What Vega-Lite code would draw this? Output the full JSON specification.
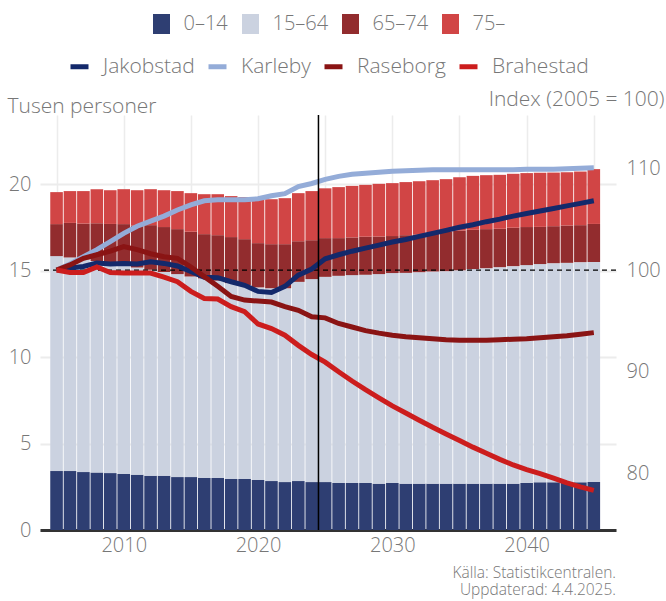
{
  "$schema": "https://vega.github.io/schema/vega-lite/v6.json",
  "width": 576,
  "height": 415,
  "autosize": {"type": "none"},
  "padding": {"left": 40, "top": 115, "right": 50, "bottom": 71},
  "background": "white",
  "config": {
    "font": "Open Sans",
    "view": {"stroke": null},
    "legend": {"layout": {"top": {"anchor": "middle", "direction": "vertical", "margin": 21, "center": true}}}
  },
  "title": {"text": ["Källa: Statistikcentralen.", "Uppdaterad: 4.4.2025."], "orient": "bottom", "anchor": "end", "frame": "group", "fontSize": 15.5, "fontWeight": 300, "color": "#777777", "lineHeight": 17, "offset": 11},
  "datasets": {
    "bars": [
      {"year":2005,"group":"0–14","value":3.41},{"year":2005,"group":"15–64","value":12.43},{"year":2005,"group":"65–74","value":1.85},{"year":2005,"group":"75–","value":1.85},
      {"year":2006,"group":"0–14","value":3.41},{"year":2006,"group":"15–64","value":12.35},{"year":2006,"group":"65–74","value":2.00},{"year":2006,"group":"75–","value":1.84},
      {"year":2007,"group":"0–14","value":3.35},{"year":2007,"group":"15–64","value":12.30},{"year":2007,"group":"65–74","value":2.07},{"year":2007,"group":"75–","value":1.88},
      {"year":2008,"group":"0–14","value":3.33},{"year":2008,"group":"15–64","value":12.22},{"year":2008,"group":"65–74","value":2.19},{"year":2008,"group":"75–","value":1.97},
      {"year":2009,"group":"0–14","value":3.29},{"year":2009,"group":"15–64","value":12.14},{"year":2009,"group":"65–74","value":2.27},{"year":2009,"group":"75–","value":1.95},
      {"year":2010,"group":"0–14","value":3.24},{"year":2010,"group":"15–64","value":12.06},{"year":2010,"group":"65–74","value":2.39},{"year":2010,"group":"75–","value":2.02},
      {"year":2011,"group":"0–14","value":3.20},{"year":2011,"group":"15–64","value":11.98},{"year":2011,"group":"65–74","value":2.43},{"year":2011,"group":"75–","value":2.04},
      {"year":2012,"group":"0–14","value":3.14},{"year":2012,"group":"15–64","value":11.91},{"year":2012,"group":"65–74","value":2.58},{"year":2012,"group":"75–","value":2.08},
      {"year":2013,"group":"0–14","value":3.14},{"year":2013,"group":"15–64","value":11.78},{"year":2013,"group":"65–74","value":2.60},{"year":2013,"group":"75–","value":2.13},
      {"year":2014,"group":"0–14","value":3.06},{"year":2014,"group":"15–64","value":11.74},{"year":2014,"group":"65–74","value":2.60},{"year":2014,"group":"75–","value":2.20},
      {"year":2015,"group":"0–14","value":3.06},{"year":2015,"group":"15–64","value":11.60},{"year":2015,"group":"65–74","value":2.59},{"year":2015,"group":"75–","value":2.23},
      {"year":2016,"group":"0–14","value":3.01},{"year":2016,"group":"15–64","value":11.54},{"year":2016,"group":"65–74","value":2.56},{"year":2016,"group":"75–","value":2.31},
      {"year":2017,"group":"0–14","value":3.01},{"year":2017,"group":"15–64","value":11.41},{"year":2017,"group":"65–74","value":2.63},{"year":2017,"group":"75–","value":2.37},
      {"year":2018,"group":"0–14","value":2.95},{"year":2018,"group":"15–64","value":11.33},{"year":2018,"group":"65–74","value":2.66},{"year":2018,"group":"75–","value":2.37},
      {"year":2019,"group":"0–14","value":2.95},{"year":2019,"group":"15–64","value":11.21},{"year":2019,"group":"65–74","value":2.66},{"year":2019,"group":"75–","value":2.43},
      {"year":2020,"group":"0–14","value":2.89},{"year":2020,"group":"15–64","value":11.14},{"year":2020,"group":"65–74","value":2.56},{"year":2020,"group":"75–","value":2.60},
      {"year":2021,"group":"0–14","value":2.83},{"year":2021,"group":"15–64","value":11.15},{"year":2021,"group":"65–74","value":2.55},{"year":2021,"group":"75–","value":2.60},
      {"year":2022,"group":"0–14","value":2.77},{"year":2022,"group":"15–64","value":11.21},{"year":2022,"group":"65–74","value":2.55},{"year":2022,"group":"75–","value":2.66},
      {"year":2023,"group":"0–14","value":2.83},{"year":2023,"group":"15–64","value":11.52},{"year":2023,"group":"65–74","value":2.35},{"year":2023,"group":"75–","value":2.78},
      {"year":2024,"group":"0–14","value":2.77},{"year":2024,"group":"15–64","value":11.74},{"year":2024,"group":"65–74","value":2.25},{"year":2024,"group":"75–","value":2.84},
      {"year":2025,"group":"0–14","value":2.77},{"year":2025,"group":"15–64","value":11.87},{"year":2025,"group":"65–74","value":2.24},{"year":2025,"group":"75–","value":2.88},
      {"year":2026,"group":"0–14","value":2.72},{"year":2026,"group":"15–64","value":11.98},{"year":2026,"group":"65–74","value":2.18},{"year":2026,"group":"75–","value":2.95},
      {"year":2027,"group":"0–14","value":2.72},{"year":2027,"group":"15–64","value":12.02},{"year":2027,"group":"65–74","value":2.18},{"year":2027,"group":"75–","value":2.98},
      {"year":2028,"group":"0–14","value":2.72},{"year":2028,"group":"15–64","value":12.04},{"year":2028,"group":"65–74","value":2.20},{"year":2028,"group":"75–","value":3.00},
      {"year":2029,"group":"0–14","value":2.68},{"year":2029,"group":"15–64","value":12.12},{"year":2029,"group":"65–74","value":2.17},{"year":2029,"group":"75–","value":3.05},
      {"year":2030,"group":"0–14","value":2.72},{"year":2030,"group":"15–64","value":12.14},{"year":2030,"group":"65–74","value":2.14},{"year":2030,"group":"75–","value":3.06},
      {"year":2031,"group":"0–14","value":2.68},{"year":2031,"group":"15–64","value":12.19},{"year":2031,"group":"65–74","value":2.18},{"year":2031,"group":"75–","value":3.07},
      {"year":2032,"group":"0–14","value":2.68},{"year":2032,"group":"15–64","value":12.23},{"year":2032,"group":"65–74","value":2.18},{"year":2032,"group":"75–","value":3.08},
      {"year":2033,"group":"0–14","value":2.68},{"year":2033,"group":"15–64","value":12.27},{"year":2033,"group":"65–74","value":2.20},{"year":2033,"group":"75–","value":3.08},
      {"year":2034,"group":"0–14","value":2.68},{"year":2034,"group":"15–64","value":12.29},{"year":2034,"group":"65–74","value":2.28},{"year":2034,"group":"75–","value":3.04},
      {"year":2035,"group":"0–14","value":2.68},{"year":2035,"group":"15–64","value":12.34},{"year":2035,"group":"65–74","value":2.30},{"year":2035,"group":"75–","value":3.08},
      {"year":2036,"group":"0–14","value":2.68},{"year":2036,"group":"15–64","value":12.41},{"year":2036,"group":"65–74","value":2.27},{"year":2036,"group":"75–","value":3.12},
      {"year":2037,"group":"0–14","value":2.68},{"year":2037,"group":"15–64","value":12.46},{"year":2037,"group":"65–74","value":2.26},{"year":2037,"group":"75–","value":3.12},
      {"year":2038,"group":"0–14","value":2.68},{"year":2038,"group":"15–64","value":12.52},{"year":2038,"group":"65–74","value":2.22},{"year":2038,"group":"75–","value":3.12},
      {"year":2039,"group":"0–14","value":2.68},{"year":2039,"group":"15–64","value":12.58},{"year":2039,"group":"65–74","value":2.22},{"year":2039,"group":"75–","value":3.12},
      {"year":2040,"group":"0–14","value":2.72},{"year":2040,"group":"15–64","value":12.60},{"year":2040,"group":"65–74","value":2.20},{"year":2040,"group":"75–","value":3.12},
      {"year":2041,"group":"0–14","value":2.76},{"year":2041,"group":"15–64","value":12.62},{"year":2041,"group":"65–74","value":2.15},{"year":2041,"group":"75–","value":3.13},
      {"year":2042,"group":"0–14","value":2.76},{"year":2042,"group":"15–64","value":12.67},{"year":2042,"group":"65–74","value":2.14},{"year":2042,"group":"75–","value":3.10},
      {"year":2043,"group":"0–14","value":2.76},{"year":2043,"group":"15–64","value":12.69},{"year":2043,"group":"65–74","value":2.16},{"year":2043,"group":"75–","value":3.08},
      {"year":2044,"group":"0–14","value":2.76},{"year":2044,"group":"15–64","value":12.73},{"year":2044,"group":"65–74","value":2.14},{"year":2044,"group":"75–","value":3.10},
      {"year":2045,"group":"0–14","value":2.78},{"year":2045,"group":"15–64","value":12.72},{"year":2045,"group":"65–74","value":2.20},{"year":2045,"group":"75–","value":3.17}
    ],
    "lines": [
      {"year":2005,"city":"Jakobstad","index":100.0},{"year":2006,"city":"Jakobstad","index":100.2},{"year":2007,"city":"Jakobstad","index":100.35},{"year":2008,"city":"Jakobstad","index":100.7},{"year":2009,"city":"Jakobstad","index":100.6},{"year":2010,"city":"Jakobstad","index":100.65},{"year":2011,"city":"Jakobstad","index":100.6},{"year":2012,"city":"Jakobstad","index":100.8},{"year":2013,"city":"Jakobstad","index":100.65},{"year":2014,"city":"Jakobstad","index":100.4},{"year":2015,"city":"Jakobstad","index":99.85},{"year":2016,"city":"Jakobstad","index":99.3},{"year":2017,"city":"Jakobstad","index":99.25},{"year":2018,"city":"Jakobstad","index":98.85},{"year":2019,"city":"Jakobstad","index":98.5},{"year":2020,"city":"Jakobstad","index":97.9},{"year":2021,"city":"Jakobstad","index":97.8},{"year":2022,"city":"Jakobstad","index":98.4},{"year":2023,"city":"Jakobstad","index":99.5},{"year":2024,"city":"Jakobstad","index":100.1},{"year":2025,"city":"Jakobstad","index":101.1},{"year":2026,"city":"Jakobstad","index":101.5},{"year":2027,"city":"Jakobstad","index":101.85},{"year":2028,"city":"Jakobstad","index":102.15},{"year":2029,"city":"Jakobstad","index":102.45},{"year":2030,"city":"Jakobstad","index":102.75},{"year":2031,"city":"Jakobstad","index":103.0},{"year":2032,"city":"Jakobstad","index":103.3},{"year":2033,"city":"Jakobstad","index":103.6},{"year":2034,"city":"Jakobstad","index":103.9},{"year":2035,"city":"Jakobstad","index":104.2},{"year":2036,"city":"Jakobstad","index":104.45},{"year":2037,"city":"Jakobstad","index":104.75},{"year":2038,"city":"Jakobstad","index":105.0},{"year":2039,"city":"Jakobstad","index":105.3},{"year":2040,"city":"Jakobstad","index":105.55},{"year":2041,"city":"Jakobstad","index":105.8},{"year":2042,"city":"Jakobstad","index":106.05},{"year":2043,"city":"Jakobstad","index":106.3},{"year":2044,"city":"Jakobstad","index":106.55},{"year":2045,"city":"Jakobstad","index":106.8},
      {"year":2005,"city":"Karleby","index":100.0},{"year":2006,"city":"Karleby","index":100.6},{"year":2007,"city":"Karleby","index":101.3},{"year":2008,"city":"Karleby","index":102.0},{"year":2009,"city":"Karleby","index":102.8},{"year":2010,"city":"Karleby","index":103.6},{"year":2011,"city":"Karleby","index":104.3},{"year":2012,"city":"Karleby","index":104.8},{"year":2013,"city":"Karleby","index":105.3},{"year":2014,"city":"Karleby","index":105.9},{"year":2015,"city":"Karleby","index":106.4},{"year":2016,"city":"Karleby","index":106.8},{"year":2017,"city":"Karleby","index":106.9},{"year":2018,"city":"Karleby","index":106.9},{"year":2019,"city":"Karleby","index":106.9},{"year":2020,"city":"Karleby","index":107.0},{"year":2021,"city":"Karleby","index":107.3},{"year":2022,"city":"Karleby","index":107.5},{"year":2023,"city":"Karleby","index":108.2},{"year":2024,"city":"Karleby","index":108.5},{"year":2025,"city":"Karleby","index":108.9},{"year":2026,"city":"Karleby","index":109.2},{"year":2027,"city":"Karleby","index":109.4},{"year":2028,"city":"Karleby","index":109.5},{"year":2029,"city":"Karleby","index":109.6},{"year":2030,"city":"Karleby","index":109.7},{"year":2031,"city":"Karleby","index":109.75},{"year":2032,"city":"Karleby","index":109.8},{"year":2033,"city":"Karleby","index":109.85},{"year":2034,"city":"Karleby","index":109.85},{"year":2035,"city":"Karleby","index":109.85},{"year":2036,"city":"Karleby","index":109.85},{"year":2037,"city":"Karleby","index":109.85},{"year":2038,"city":"Karleby","index":109.85},{"year":2039,"city":"Karleby","index":109.85},{"year":2040,"city":"Karleby","index":109.9},{"year":2041,"city":"Karleby","index":109.9},{"year":2042,"city":"Karleby","index":109.9},{"year":2043,"city":"Karleby","index":109.95},{"year":2044,"city":"Karleby","index":110.0},{"year":2045,"city":"Karleby","index":110.05},
      {"year":2005,"city":"Raseborg","index":100.0},{"year":2006,"city":"Raseborg","index":100.5},{"year":2007,"city":"Raseborg","index":101.15},{"year":2008,"city":"Raseborg","index":101.5},{"year":2009,"city":"Raseborg","index":101.85},{"year":2010,"city":"Raseborg","index":102.3},{"year":2011,"city":"Raseborg","index":102.0},{"year":2012,"city":"Raseborg","index":101.6},{"year":2013,"city":"Raseborg","index":101.3},{"year":2014,"city":"Raseborg","index":101.15},{"year":2015,"city":"Raseborg","index":100.3},{"year":2016,"city":"Raseborg","index":99.35},{"year":2017,"city":"Raseborg","index":98.4},{"year":2018,"city":"Raseborg","index":97.4},{"year":2019,"city":"Raseborg","index":97.05},{"year":2020,"city":"Raseborg","index":96.95},{"year":2021,"city":"Raseborg","index":96.85},{"year":2022,"city":"Raseborg","index":96.4},{"year":2023,"city":"Raseborg","index":96.05},{"year":2024,"city":"Raseborg","index":95.4},{"year":2025,"city":"Raseborg","index":95.3},{"year":2026,"city":"Raseborg","index":94.75},{"year":2027,"city":"Raseborg","index":94.4},{"year":2028,"city":"Raseborg","index":94.05},{"year":2029,"city":"Raseborg","index":93.8},{"year":2030,"city":"Raseborg","index":93.6},{"year":2031,"city":"Raseborg","index":93.45},{"year":2032,"city":"Raseborg","index":93.35},{"year":2033,"city":"Raseborg","index":93.25},{"year":2034,"city":"Raseborg","index":93.15},{"year":2035,"city":"Raseborg","index":93.1},{"year":2036,"city":"Raseborg","index":93.1},{"year":2037,"city":"Raseborg","index":93.1},{"year":2038,"city":"Raseborg","index":93.15},{"year":2039,"city":"Raseborg","index":93.2},{"year":2040,"city":"Raseborg","index":93.25},{"year":2041,"city":"Raseborg","index":93.35},{"year":2042,"city":"Raseborg","index":93.45},{"year":2043,"city":"Raseborg","index":93.55},{"year":2044,"city":"Raseborg","index":93.7},{"year":2045,"city":"Raseborg","index":93.85},
      {"year":2005,"city":"Brahestad","index":100.0},{"year":2006,"city":"Brahestad","index":99.75},{"year":2007,"city":"Brahestad","index":99.75},{"year":2008,"city":"Brahestad","index":100.3},{"year":2009,"city":"Brahestad","index":99.75},{"year":2010,"city":"Brahestad","index":99.7},{"year":2011,"city":"Brahestad","index":99.7},{"year":2012,"city":"Brahestad","index":99.7},{"year":2013,"city":"Brahestad","index":99.3},{"year":2014,"city":"Brahestad","index":98.85},{"year":2015,"city":"Brahestad","index":97.9},{"year":2016,"city":"Brahestad","index":97.2},{"year":2017,"city":"Brahestad","index":97.15},{"year":2018,"city":"Brahestad","index":96.4},{"year":2019,"city":"Brahestad","index":95.9},{"year":2020,"city":"Brahestad","index":94.7},{"year":2021,"city":"Brahestad","index":94.25},{"year":2022,"city":"Brahestad","index":93.6},{"year":2023,"city":"Brahestad","index":92.6},{"year":2024,"city":"Brahestad","index":91.7},{"year":2025,"city":"Brahestad","index":90.95},{"year":2026,"city":"Brahestad","index":90.0},{"year":2027,"city":"Brahestad","index":89.1},{"year":2028,"city":"Brahestad","index":88.25},{"year":2029,"city":"Brahestad","index":87.45},{"year":2030,"city":"Brahestad","index":86.65},{"year":2031,"city":"Brahestad","index":85.95},{"year":2032,"city":"Brahestad","index":85.25},{"year":2033,"city":"Brahestad","index":84.55},{"year":2034,"city":"Brahestad","index":83.9},{"year":2035,"city":"Brahestad","index":83.25},{"year":2036,"city":"Brahestad","index":82.6},{"year":2037,"city":"Brahestad","index":82.0},{"year":2038,"city":"Brahestad","index":81.4},{"year":2039,"city":"Brahestad","index":80.85},{"year":2040,"city":"Brahestad","index":80.4},{"year":2041,"city":"Brahestad","index":80.0},{"year":2042,"city":"Brahestad","index":79.55},{"year":2043,"city":"Brahestad","index":79.1},{"year":2044,"city":"Brahestad","index":78.7},{"year":2045,"city":"Brahestad","index":78.35}
    ]
  },
  "layer": [
    {
      "data": {"name": "bars"},
      "mark": {"type": "bar", "size": 12.6},
      "encoding": {
        "x": {
          "field": "year", "type": "quantitative",
          "scale": {"domain": [2004.14, 2046.28], "nice": false, "zero": false},
          "axis": {"values": [2005, 2010, 2015, 2020, 2025, 2030, 2035, 2040, 2045], "format": "d", "labelExpr": "datum.value % 10 === 0 ? datum.label : ''", "grid": true, "gridColor": "#ececec", "gridWidth": 1.5, "ticks": false, "domain": true, "domainColor": "#333333", "domainWidth": 3, "labelFontSize": 20, "labelFontWeight": 300, "labelColor": "#777777", "labelPadding": 5, "title": null}
        },
        "y": {
          "field": "value", "type": "quantitative", "stack": "zero",
          "scale": {"domain": [0, 24], "nice": false},
          "axis": {"values": [0, 5, 10, 15, 20], "grid": true, "gridColor": "#ececec", "gridWidth": 2, "ticks": false, "domain": false, "labelFontSize": 20, "labelFontWeight": 300, "labelColor": "#777777", "labelPadding": 9, "title": "Tusen personer", "titleAngle": 0, "titleAlign": "left", "titleBaseline": "alphabetic", "titleX": -33, "titleY": -3, "titleFontSize": 21, "titleFontWeight": 300, "titleColor": "#777777"}
        },
        "order": {"field": "group", "type": "nominal", "sort": "ascending"},
        "color": {
          "field": "group", "type": "nominal",
          "scale": {"domain": ["0–14", "15–64", "65–74", "75–"], "range": ["#2e3e72", "#cbd2e0", "#922c2e", "#d14545"]},
          "legend": {"title": null, "orient": "top", "direction": "horizontal", "symbolType": "M-0.85,-1H0.85V1H-0.85Z", "symbolSize": 400, "symbolStrokeWidth": 0, "labelFontSize": 20, "labelFontWeight": 300, "labelColor": "#777777", "labelOffset": 12, "columnPadding": 12, "offset": 38}
        }
      }
    },
    {
      "data": {"name": "lines"},
      "encoding": {
        "y": {
          "field": "index", "type": "quantitative",
          "scale": {"domain": [74.46, 115.23], "nice": false, "zero": false},
          "axis": {"orient": "right", "values": [80, 90, 100, 110], "grid": false, "ticks": false, "domain": false, "labelFontSize": 20, "labelFontWeight": 300, "labelColor": "#777777", "labelPadding": 10, "title": "Index (2005 = 100)", "titleAngle": 0, "titleAlign": "right", "titleBaseline": "alphabetic", "titleX": 48, "titleY": -10, "titleFontSize": 21, "titleFontWeight": 300, "titleColor": "#777777"}
        }
      },
      "layer": [
        {
          "data": {"values": [{"index": 100}]},
          "mark": {"type": "rule", "color": "black", "strokeWidth": 1.3, "strokeDash": [5, 4]}
        },
        {
          "mark": {"type": "line", "strokeWidth": 5},
          "encoding": {
            "x": {"field": "year", "type": "quantitative"},
            "color": {
              "field": "city", "type": "nominal",
              "scale": {"domain": ["Jakobstad", "Karleby", "Raseborg", "Brahestad"], "range": ["#13296b", "#94acd8", "#8a1414", "#cc1d1d"]},
              "legend": {"title": null, "orient": "top", "direction": "horizontal", "symbolType": "stroke", "symbolSize": 324, "symbolStrokeWidth": 5, "labelFontSize": 21, "labelFontWeight": 300, "labelColor": "#777777", "labelOffset": 12, "columnPadding": 3, "offset": 38}
            }
          }
        }
      ]
    },
    {
      "data": {"values": [{"year": 2024.5}]},
      "mark": {"type": "rule", "color": "black", "strokeWidth": 1.5},
      "encoding": {"x": {"field": "year", "type": "quantitative"}}
    }
  ],
  "resolve": {"scale": {"y": "independent", "color": "independent"}}
}
